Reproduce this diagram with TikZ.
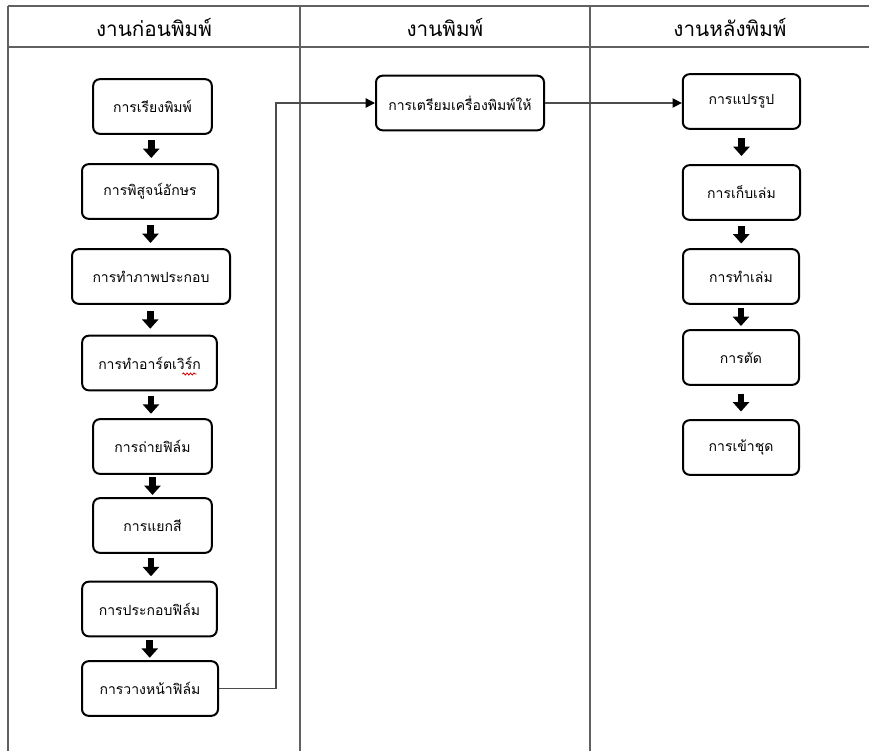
\documentclass[tikz,border=0pt]{standalone}
\usepackage{fontspec}
\newfontfamily\thaifont[Script=Thai]{Loma}
\usetikzlibrary{arrows.meta,calc,decorations.pathmorphing}
\begin{document}
\begin{tikzpicture}[x=0.75pt,y=-0.75pt,
  gridline/.style={draw=black!62, line width=1.5pt},
  headtext/.style={font=\thaifont\fontsize{15.5}{17}\selectfont, inner sep=0pt},
  stepbox/.style={draw=black, line width=1.5pt, rounded corners=5pt,
    fill=white, inner sep=0pt, minimum height=41pt,
    font=\thaifont\fontsize{10.5}{12}\selectfont},
  flow/.style={line width=5pt, -{Triangle[length=7pt,width=12pt]}},
  link/.style={draw=black!70, line width=1pt,
    -{Triangle[length=7pt,width=7pt,color=black]}},
  spell/.style={draw=red!85!black, line width=0.6pt,
    decorate, decoration={snake, amplitude=0.8pt, segment length=2.6pt}}
]
\useasboundingbox (0,0) rectangle (869,751);
\fill[white] (0,0) rectangle (869,751);

% table frame: header row and three lanes
\draw[gridline] (8,6) -- (869,6);
\draw[gridline] (8,47) -- (869,47);
\draw[gridline] (8,6) -- (8,751);
\draw[gridline] (300,6) -- (300,751);
\draw[gridline] (590,6) -- (590,751);

\node[headtext] (h1) at (154,27) {งานก่อนพิมพ์};
\node[headtext] (h2) at (445,27) {งานพิมพ์};
\node[headtext] (h3) at (730,27) {งานหลังพิมพ์};

% pre-press steps
\node[stepbox, minimum width=89pt]  (L1) at (152.5,106.5) {การเรียงพิมพ์};
\node[stepbox, minimum width=102pt] (L2) at (150,191.5) {การพิสูจน์อักษร};
\node[stepbox, minimum width=118.5pt] (L3) at (151,276.5) {การทำภาพประกอบ};
\node[stepbox, minimum width=101pt] (L4) at (149.5,363) {การทำอาร์ตเวิร์ก};
\node[stepbox, minimum width=89pt]  (L5) at (152.5,446.5) {การถ่ายฟิล์ม};
\node[stepbox, minimum width=89pt]  (L6) at (152.5,525.5) {การแยกสี};
\node[stepbox, minimum width=101pt] (L7) at (149.5,609) {การประกอบฟิล์ม};
\node[stepbox, minimum width=102pt] (L8) at (150,688.5) {การวางหน้าฟิล์ม};

% printing
\node[stepbox, minimum width=126pt] (M1) at (460,103) {การเตรียมเครื่องพิมพ์ให้};

% post-press steps
\node[stepbox, minimum width=88pt] (R1) at (741.5,101.5) {การแปรรูป};
\node[stepbox, minimum width=88pt] (R2) at (741.5,192.5) {การเก็บเล่ม};
\node[stepbox, minimum width=87pt] (R3) at (741,276.5) {การทำเล่ม};
\node[stepbox, minimum width=87pt] (R4) at (741,357.5) {การตัด};
\node[stepbox, minimum width=87pt] (R5) at (741,447.5) {การเข้าชุด};

% spelling mark under the last word
\draw[spell] ($(L4.center)+(33,11)$) -- ($(L4.center)+(47,11)$);

% block arrows, each centred in the gap between consecutive steps
\foreach \a/\b in {L1/L2,L2/L3,L3/L4,L4/L5,L5/L6,L6/L7,L7/L8,
                   R1/R2,R2/R3,R3/R4,R4/R5}
  \draw[flow] ($(\a.south)!.5!(\b.north)+(0,-9)$) -- ($(\a.south)!.5!(\b.north)+(0,9)$);

% hand-over connectors between lanes
\coordinate (bend) at (276,0);
\draw[link] (L8.east) -- (L8.east -| bend) -- (bend |- M1.west) -- (M1.west);
\draw[link] (M1.east) -- (M1.east -| R1.west);
\end{tikzpicture}
\end{document}
